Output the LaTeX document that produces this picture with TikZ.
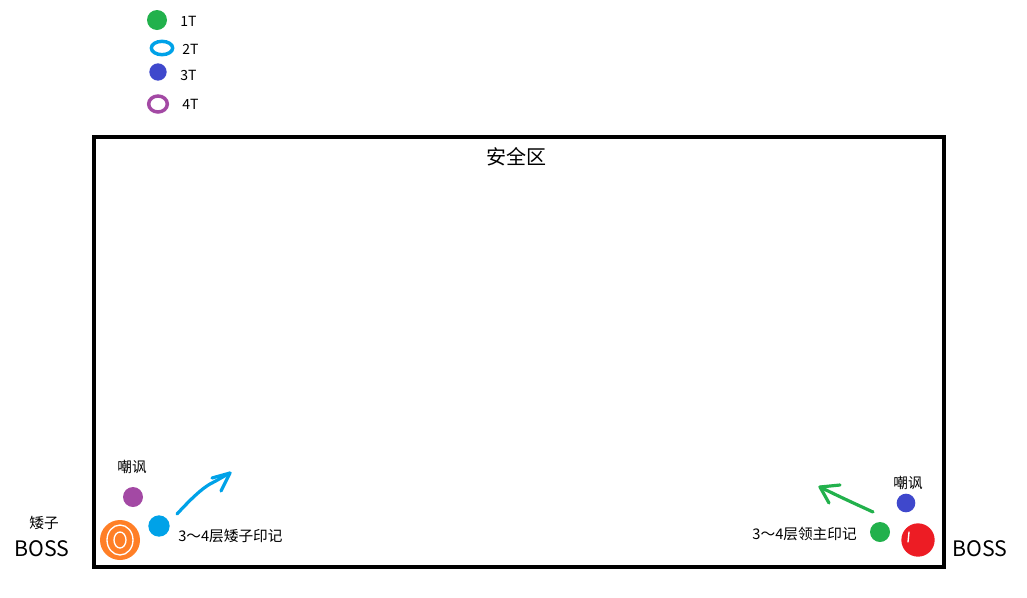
\documentclass[tikz,border=0pt]{standalone}
\usepackage{fontspec}
\setmainfont{Noto Sans CJK SC}
\usetikzlibrary{shapes.geometric}
\definecolor{pgreen}{HTML}{22B14C}
\definecolor{pcyan}{HTML}{00A2E8}
\definecolor{pblue}{HTML}{3F48CC}
\definecolor{ppurple}{HTML}{A349A4}
\definecolor{porange}{HTML}{FF7F27}
\definecolor{pred}{HTML}{ED1C24}
\tikzset{
  blob/.style={circle, fill=#1, inner sep=0pt},
  ring/.style={ellipse, draw=#1, line width=2.6pt, inner sep=0pt},
  lbl/.style={inner sep=0pt, font=\fontsize{10.5}{12}\selectfont},
  marklbl/.style={inner sep=0pt, font=\fontsize{11}{13}\selectfont},
  bosslbl/.style={inner sep=0pt, font=\fontsize{16}{18}\selectfont},
  stroke/.style={line width=2.4pt, line cap=round, line join=round, draw=#1},
  scrib/.style={white, line width=1pt, line cap=round}
}
\begin{document}
\begin{tikzpicture}[x=0.75pt,y=-0.75pt]
\useasboundingbox (0,0) rectangle (1027,597);
% safe zone
\draw[line width=3pt] (94,137) rectangle (944,567);
\node[inner sep=0pt, font=\fontsize{15}{17}\selectfont] (safe) at (516,157) {安全区};
% legend
\node[blob=pgreen, minimum size=15pt] (g1) at (157,20) {};
\node[lbl, anchor=west] (t1) at (180,21) {1T};
\node[ring=pcyan, minimum width=16pt, minimum height=10pt] (g2) at (162,48) {};
\node[lbl, anchor=west] (t2) at (182,49) {2T};
\node[blob=pblue, minimum size=13pt] (g3) at (158,72) {};
\node[lbl, anchor=west] (t3) at (180,75) {3T};
\node[ring=ppurple, minimum width=14pt, minimum height=12pt] (g4) at (158,104) {};
\node[lbl, anchor=west] (t4) at (182,104) {4T};
% left side
\node[marklbl] (lboss1) at (44,523) {矮子};
\node[bosslbl] (lboss2) at (42,549) {BOSS};
\node[blob=porange, minimum size=30pt] (orange) at (120,540) {};
\draw[scrib] (120,540) ellipse[x radius=6, y radius=8];
\draw[scrib] (120,540) ellipse[x radius=13, y radius=15];
\node[blob=ppurple, minimum size=15pt] (ltaunt) at (133,497) {};
\node[marklbl] (ltauntlbl) at (132,467) {嘲讽};
\node[blob=pcyan, minimum size=16pt] (lcyan) at (159,526) {};
\node[marklbl, anchor=west] (lmark) at (178,536) {3\char"FF5E 4层矮子印记};
\coordinate (la0) at (177,514);
\coordinate (la1) at (230,473);
\coordinate (lh1) at (212,478);
\coordinate (lh2) at (221,491);
\draw[stroke=pcyan] (la0) .. controls (190,500) and (200,490) .. (210,484) .. controls (218,480) and (224,476) .. (la1);
\draw[stroke=pcyan] (lh1) -- (la1) -- (lh2);
% right side
\node[marklbl] (rtauntlbl) at (908,483) {嘲讽};
\node[blob=pblue, minimum size=14pt] (rtaunt) at (906,503) {};
\node[blob=pred, minimum size=25pt] (red) at (918,540) {};
\draw[scrib] (909,532) -- (908,542);
\node[blob=pgreen, minimum size=15pt] (rgreen) at (880,532) {};
\node[marklbl, anchor=east] (rmark) at (857,534) {3\char"FF5E 4层领主印记};
\node[bosslbl] (rboss) at (980,549) {BOSS};
\coordinate (ra0) at (873,512);
\coordinate (ra1) at (820,487);
\coordinate (rh1) at (840,485);
\coordinate (rh2) at (829,503);
\draw[stroke=pgreen] (ra0) .. controls (860,506) and (840,497) .. (ra1);
\draw[stroke=pgreen] (rh1) -- (ra1) -- (rh2);
\end{tikzpicture}
\end{document}
